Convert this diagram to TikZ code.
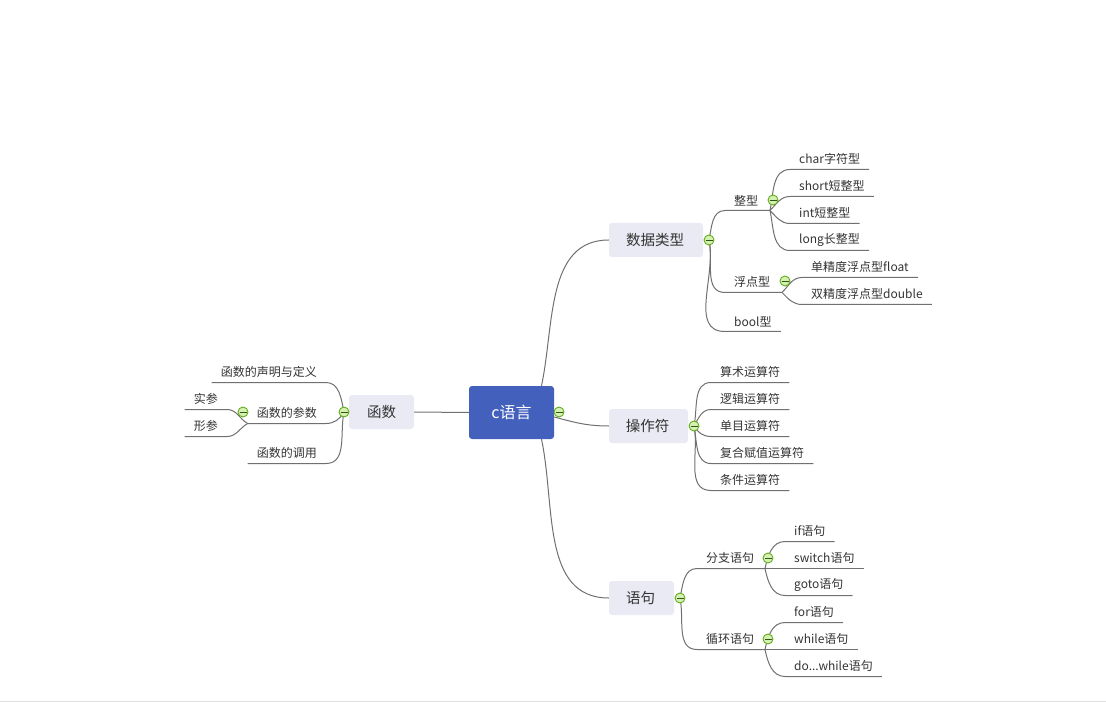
\documentclass[tikz,border=0pt]{standalone}
\usepackage{fontspec}
\setmainfont{Noto Sans CJK SC}
\usetikzlibrary{backgrounds}
\definecolor{rootblue}{HTML}{4360BD}
\definecolor{topicgray}{HTML}{E9EAF3}
\definecolor{linkgray}{HTML}{707070}
\definecolor{textgray}{HTML}{333333}
\definecolor{knobgreen}{HTML}{62AC1E}
\definecolor{knobfill}{HTML}{D6F0B4}
\begin{document}
\begin{tikzpicture}[x=1pt, y=-1pt,
    root/.style={fill=rootblue, text=white, rounded corners=3pt, minimum width=85pt, minimum height=53pt, inner sep=0pt, font=\fontsize{16}{18}\selectfont},
    topic/.style={fill=topicgray, text=textgray, rounded corners=3pt, minimum height=34pt, inner xsep=0pt, inner ysep=0pt, font=\fontsize{14.5}{17}\selectfont},
    leaf/.style={anchor=south west, yshift=-0.5pt, text=textgray, minimum height=20pt, inner xsep=9pt, inner ysep=0pt, font=\fontsize{12}{14}\selectfont},
    leftleaf/.style={leaf, anchor=south east},
    knob/.style={circle, draw=knobgreen, fill=knobfill, line width=0.9pt, minimum size=10pt, inner sep=0pt,
      path picture={\draw[knobgreen!50!black, line width=0.9pt] ([xshift=1.5pt]path picture bounding box.west) -- ([xshift=-1.5pt]path picture bounding box.east);}},
    link/.style={draw=linkgray, line width=1pt},
    rise/.style={out=78, in=180},
    fall/.style={out=-78, in=180},
    leftrise/.style={out=102, in=0},
    leftfall/.style={out=-102, in=0}]
    \useasboundingbox (0,0) rectangle (1106,711);
    \draw[black!12, line width=1pt] (0,701.5) -- (1106,701.5);

    \node[root] (clang) at (511.5,412.5) {c语言};
    \node[knob] (clangknob) at (559,412) {};

    \begin{scope}
      \node[topic, minimum width=94pt] (datatype) at (656,240) {\hspace*{-2pt}数据类型};
      \node[knob] (datatypeknob) at (709,240) {};
      \node[leaf] (intgroup) at (725,210) {整型};
      \node[knob] (intgroupknob) at (773,200) {};
      \coordinate (intjoin) at (770,210.5);
      \node[leaf] (charint) at (790,169) {char字符型};
      \node[leaf] (shortint) at (790,196) {short短整型};
      \node[leaf] (plainint) at (790,223) {int短整型};
      \node[leaf] (longint) at (790,250) {long长整型};
      \node[leaf] (floatgroup) at (725,292) {浮点型};
      \node[knob] (floatgroupknob) at (785,281) {};
      \coordinate (floatjoin) at (782,292.5);
      \node[leaf] (singlefloat) at (802,277) {单精度浮点型float};
      \node[leaf] (doublefloat) at (802,304) {双精度浮点型double};
      \node[leaf] (boolean) at (725,331) {bool型};
    \end{scope}

    \begin{scope}
      \node[topic, minimum width=79pt] (operator) at (648.5,426) {\hspace*{-2pt}操作符};
      \node[knob] (operatorknob) at (694,426) {};
      \node[leaf] (arith) at (711,382) {算术运算符};
      \node[leaf] (logic) at (711,409) {逻辑运算符};
      \node[leaf] (unary) at (711,436) {单目运算符};
      \node[leaf] (compound) at (711,463) {复合赋值运算符};
      \node[leaf] (ternary) at (711,490) {条件运算符};
    \end{scope}

    \begin{scope}
      \node[topic, minimum width=65pt] (statement) at (641.5,598) {\hspace*{-2pt}语句};
      \node[knob] (statementknob) at (680,598) {};
      \node[leaf] (branch) at (697,568) {分支语句};
      \node[knob] (branchknob) at (768,558) {};
      \coordinate (branchjoin) at (765,568.5);
      \node[leaf] (ifstmt) at (785,541) {if语句};
      \node[leaf] (switchstmt) at (785,568) {switch语句};
      \node[leaf] (gotostmt) at (785,595) {goto语句};
      \node[leaf] (loop) at (697,649) {循环语句};
      \node[knob] (loopknob) at (768,639) {};
      \coordinate (loopjoin) at (765,649.5);
      \node[leaf] (forstmt) at (785,622) {for语句};
      \node[leaf] (whilestmt) at (785,649) {while语句};
      \node[leaf] (dostmt) at (785,676) {do...while语句};
    \end{scope}

    \begin{scope}
      \node[topic, minimum width=65pt] (function) at (381.5,412) {函数};
      \node[knob] (functionknob) at (344,412) {};
      \node[leftleaf] (declare) at (326,382) {函数的声明与定义};
      \node[leftleaf] (params) at (326,423) {函数的参数};
      \node[knob] (paramsknob) at (243,412) {};
      \node[leftleaf] (call) at (326,463) {函数的调用};
      \node[leftleaf] (actual) at (227,409) {实参};
      \node[leftleaf] (formal) at (227,436) {形参};
    \end{scope}

    \begin{scope}[on background layer]
      \draw[link] ([xshift=30pt]clang.north) to[rise] (datatype.west);
      \draw[link] (clang.east |- 0,417) to[out=-15, in=180] (operator.west);
      \draw[link] ([xshift=30pt]clang.south) to[fall] (statement.west);
      \draw[link] (clang.west) -- (function.east);

      \draw[link] (datatypeknob.center) to[rise] (intgroup.south west) -- (intjoin);
      \draw[link] (datatypeknob.center) to[fall] (floatgroup.south west) -- (floatjoin);
      \draw[link] (datatypeknob.center) to[fall] (boolean.south west) -- (boolean.south east);
      \draw[link] (intjoin) to[rise] (charint.south west) -- (charint.south east);
      \draw[link] (intjoin) to[out=45, in=180] (shortint.south west) -- (shortint.south east);
      \draw[link] (intjoin) to[out=-45, in=180] (plainint.south west) -- (plainint.south east);
      \draw[link] (intjoin) to[fall] (longint.south west) -- (longint.south east);
      \draw[link] (floatjoin) to[out=45, in=180] (singlefloat.south west) -- (singlefloat.south east);
      \draw[link] (floatjoin) to[out=-45, in=180] (doublefloat.south west) -- (doublefloat.south east);

      \draw[link] (operatorknob.center) to[rise] (arith.south west) -- (arith.south east);
      \draw[link] (operatorknob.center) to[out=60, in=180] (logic.south west) -- (logic.south east);
      \draw[link] (operatorknob.center) to[out=-60, in=180] (unary.south west) -- (unary.south east);
      \draw[link] (operatorknob.center) to[fall] (compound.south west) -- (compound.south east);
      \draw[link] (operatorknob.center) to[fall] (ternary.south west) -- (ternary.south east);

      \draw[link] (statementknob.center) to[rise] (branch.south west) -- (branchjoin);
      \draw[link] (statementknob.center) to[fall] (loop.south west) -- (loopjoin);
      \draw[link] (branchjoin) to[rise] (ifstmt.south west) -- (ifstmt.south east);
      \draw[link] (branchjoin) -- (switchstmt.south west) -- (switchstmt.south east);
      \draw[link] (branchjoin) to[fall] (gotostmt.south west) -- (gotostmt.south east);
      \draw[link] (loopjoin) to[rise] (forstmt.south west) -- (forstmt.south east);
      \draw[link] (loopjoin) -- (whilestmt.south west) -- (whilestmt.south east);
      \draw[link] (loopjoin) to[fall] (dostmt.south west) -- (dostmt.south east);

      \draw[link] (functionknob.center) to[leftrise] (declare.south east) -- (declare.south west);
      \draw[link] (functionknob.center) to[out=-120, in=0] (params.south east) -- (params.south west);
      \draw[link] (functionknob.center) to[leftfall] (call.south east) -- (call.south west);
      \draw[link] (params.south west) to[out=150, in=0] (actual.south east) -- (actual.south west);
      \draw[link] (params.south west) to[out=-150, in=0] (formal.south east) -- (formal.south west);
    \end{scope}
  \end{tikzpicture}
\end{document}
